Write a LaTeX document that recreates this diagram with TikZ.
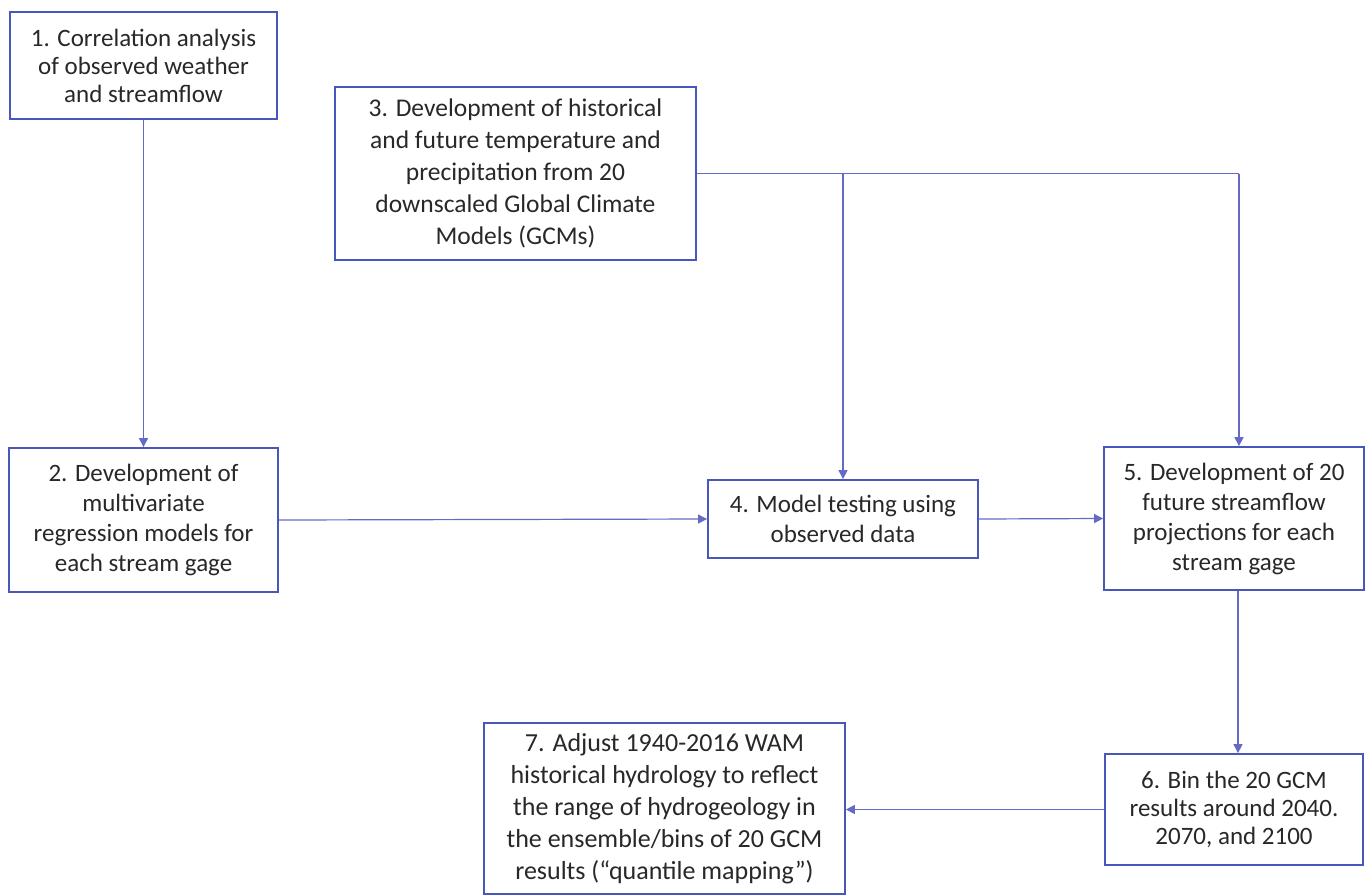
\documentclass[tikz,border=0pt]{standalone}
\usepackage{fontspec}
\setmainfont{Carlito}
\usetikzlibrary{arrows.meta,calc}
\definecolor{boxblue}{RGB}{72,88,186}
\definecolor{lineblue}{RGB}{100,106,198}
\definecolor{txt}{RGB}{40,40,40}
\tikzset{
  stepbox/.style={draw=boxblue, line width=1.8pt, fill=white, align=center,
    inner sep=0pt, text=txt, font=\fontsize{25}{30}\selectfont},
  flow/.style={draw=lineblue, line width=1.2pt,
    -{Triangle[length=9pt,width=9pt]}},
  link/.style={draw=lineblue, line width=1.2pt}
}
\begin{document}
\begin{tikzpicture}[x=1pt,y=-1pt]
\useasboundingbox (0,0) rectangle (1365,895);

% process steps
\node[stepbox, minimum width=267pt, minimum height=107pt,
  font=\fontsize{25}{28}\selectfont] (n1) at (143.5,65.5)
  {1. Correlation analysis\\of observed weather\\and streamflow};
\node[stepbox, minimum width=361pt, minimum height=173pt,
  font=\fontsize{25.5}{32}\selectfont] (n3) at (515.5,173.5)
  {3. Development of historical\\and future temperature and\\precipitation from 20\\downscaled Global Climate\\Models (GCMs)};
\node[stepbox, minimum width=269pt, minimum height=144pt] (n2) at (143.5,520)
  {2. Development of\\multivariate\\regression models for\\each stream gage};
\node[stepbox, minimum width=270pt, minimum height=78pt] (n4) at (843,519)
  {4. Model testing using\\observed data};
\node[stepbox, minimum width=260pt, minimum height=143pt] (n5) at (1234,518.5)
  {5. Development of 20\\future streamflow\\projections for each\\stream gage};
\node[stepbox, minimum width=258pt, minimum height=111pt,
  font=\fontsize{25}{28}\selectfont] (n6) at (1234,809.5)
  {6. Bin the 20 GCM\\results around 2040.\\2070, and 2100};
\node[stepbox, minimum width=361pt, minimum height=171pt,
  font=\fontsize{26}{32}\selectfont] (n7) at (664.5,808.5)
  {7. Adjust 1940-2016 WAM\\historical hydrology to reflect\\the range of hydrogeology in\\the ensemble/bins of 20 GCM\\results (“quantile mapping”)};

% connectors
\coordinate (j5) at ($(n3.east -| n5.north)+(5,0)$);
\coordinate (j4) at (n3.east -| n4.north);
\draw[flow] (n1.south) -- (n2.north);
\draw[link] (n3.east) -- (j5);
\draw[flow] (j5) -- ($(n5.north)+(5,0)$);
\draw[flow] (j4) -- (n4.north);
\draw[flow] (n2.east) -- (n4.west);
\draw[flow] (n4.east) -- (n5.west);
\draw[flow] ($(n5.south)+(4,0)$) -- ($(n6.north)+(4,0)$);
\draw[flow] (n6.west) -- (n6.west -| n7.east);
\end{tikzpicture}
\end{document}
